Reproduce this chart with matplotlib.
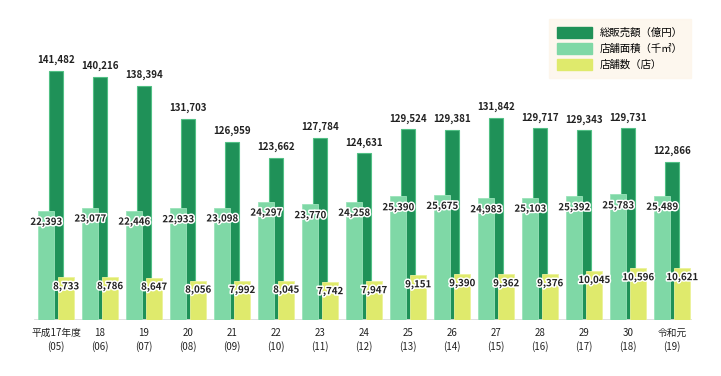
import numpy as np
import matplotlib.pyplot as plt
import matplotlib.patheffects as pe
from matplotlib.patches import Patch

plt.rcParams['font.family'] = ['Noto Sans CJK JP', 'DejaVu Sans']

years = ['平成17年度\n(05)', '18\n(06)', '19\n(07)', '20\n(08)', '21\n(09)', '22\n(10)',
         '23\n(11)', '24\n(12)', '25\n(13)', '26\n(14)', '27\n(15)', '28\n(16)',
         '29\n(17)', '30\n(18)', '令和元\n(19)']
sales = [141482, 140216, 138394, 131703, 126959, 123662, 127784, 124631,
         129524, 129381, 131842, 129717, 129343, 129731, 122866]
area = [22393, 23077, 22446, 22933, 23098, 24297, 23770, 24258,
        25390, 25675, 24983, 25103, 25392, 25783, 25489]
stores = [8733, 8786, 8647, 8056, 7992, 8045, 7742, 7947,
          9151, 9390, 9362, 9376, 10045, 10596, 10621]

c_dark = '#1f9158'
c_light = '#7fd8a6'
c_yellow = '#dfea6c'

fig = plt.figure(figsize=(7.21, 3.76), dpi=100)
ax = fig.add_axes([0, 56 / 376, 1, 300 / 376])
ax2 = ax.twinx()
ax.set_zorder(1)
ax2.set_zorder(2)
ax.patch.set_visible(False)
ax2.patch.set_visible(False)

x = np.arange(len(years))
ax.set_xlim(-56 / 44, (721 - 56) / 44)
ax.set_ylim(90500, 90500 + 300 / 0.004888)
ax2.set_ylim(0, 300 / 0.00487)

ax.bar(x + 0.007, sales, width=0.32, color=c_dark, edgecolor='#52c085', linewidth=0.8)
ax2.bar(x - 0.22, area, width=0.364, color=c_light, edgecolor='#9be3ba', linewidth=0.6)
ax2.bar(x + 0.232, stores, width=0.357, color=c_yellow, edgecolor='#ecf29a', linewidth=0.6)

halo = [pe.withStroke(linewidth=2.2, foreground='white')]
for i in range(len(years)):
    ax.annotate(f'{sales[i]:,}', (x[i] + 0.007, sales[i]), xytext=(0, 4),
                textcoords='offset points', ha='center', va='bottom',
                fontsize=7, color='#222222', fontweight='bold')
    ax2.annotate(f'{area[i]:,}', (x[i] - 0.22, area[i]), xytext=(0, -8),
                 textcoords='offset points', ha='center', va='center',
                 fontsize=7, color='#222222', fontweight='bold', path_effects=halo)
    ax2.annotate(f'{stores[i]:,}', (x[i] + 0.232, stores[i]), xytext=(0, -6.5),
                 textcoords='offset points', ha='center', va='center',
                 fontsize=7, color='#222222', fontweight='bold', path_effects=halo)

ax.axhline(90500, xmin=35 / 721, xmax=690 / 721, color='#dddddd', lw=2, zorder=5)

for a in (ax, ax2):
    for s in a.spines.values():
        s.set_visible(False)
    a.set_yticks([])
ax.set_xticks(x)
ax.set_xticklabels(years, fontsize=7, color='#222222', linespacing=1.35)
ax.tick_params(axis='x', length=0, pad=6)

handles = [Patch(color=c_dark, label='総販売額（億円）'),
           Patch(color=c_light, label='店舗面積（千㎡）'),
           Patch(color=c_yellow, label='店舗数（店）')]
leg = fig.legend(handles=handles, loc='upper right', bbox_to_anchor=(696 / 721, 1 - 14 / 376),
                 fontsize=7.5, frameon=True, fancybox=False, handlelength=3.3,
                 handleheight=1.2, labelspacing=0.5, borderpad=0.75)
leg.get_frame().set_facecolor('#fdf5ea')
leg.get_frame().set_edgecolor('#fdf5ea')

fig.savefig('out.png', dpi=100)
